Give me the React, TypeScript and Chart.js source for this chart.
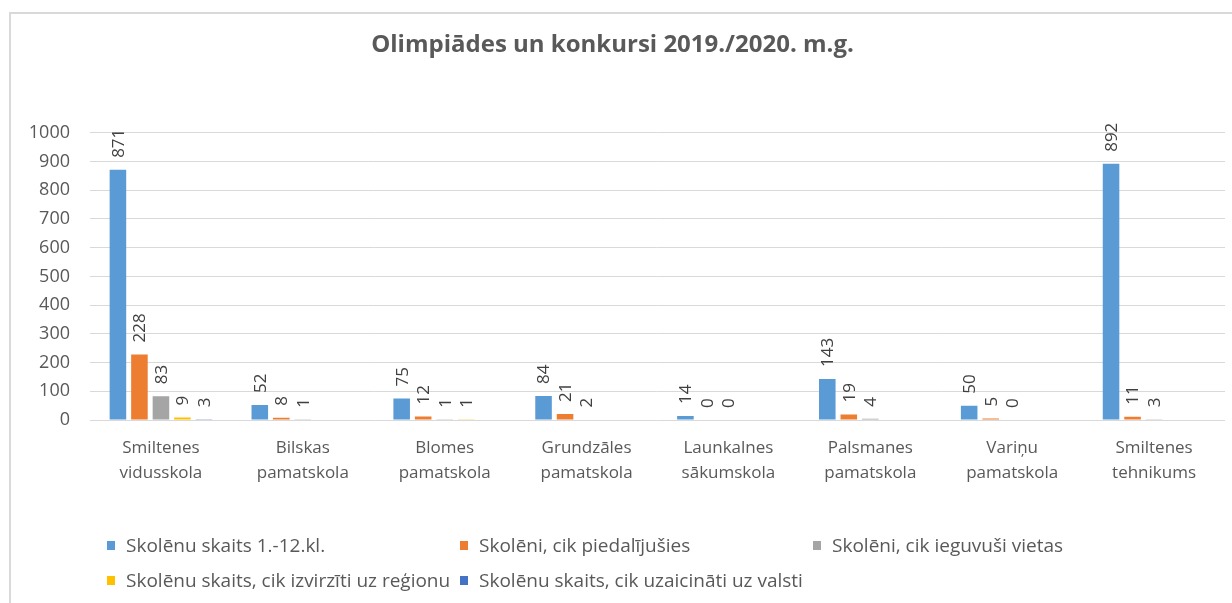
import React, { useEffect, useRef } from "react";
import { Chart, registerables } from "chart.js";

Chart.register(...registerables);

const categories: string[][] = [
  ["Smiltenes", "vidusskola"],
  ["Bilskas", "pamatskola"],
  ["Blomes", "pamatskola"],
  ["Grundzāles", "pamatskola"],
  ["Launkalnes", "sākumskola"],
  ["Palsmanes", "pamatskola"],
  ["Variņu", "pamatskola"],
  ["Smiltenes", "tehnikums"],
];

const seriesNames = [
  "Skolēnu skaits 1.-12.kl.",
  "Skolēni, cik piedalījušies",
  "Skolēni, cik ieguvuši vietas",
  "Skolēnu skaits, cik izvirzīti uz reģionu",
  "Skolēnu skaits, cik uzaicināti uz valsti",
];

const skolenuSkaits = [871, 52, 75, 84, 14, 143, 50, 892];
const piedalijusies = [228, 8, 12, 21, 0, 19, 5, 11];
const ieguvusiVietas = [83, 1, 1, 2, 0, 4, 0, 3];
const izvirzitiRegionu = [9, null, 1, null, null, null, null, null];
const uzaicinatiValsti = [3, null, null, null, null, null, null, null];

const yTicks = [0, 100, 200, 300, 400, 500, 600, 700, 800, 900, 1000];

const colors = ["#5B9BD5", "#ED7D31", "#A5A5A5", "#FFC000", "#4472C4"];

const FONT = "'Open Sans', 'DejaVu Sans', sans-serif";
const TEXT = "#595959";

const valueLabels = {
  id: "valueLabels",
  afterDatasetsDraw(chart: any) {
    const ctx = chart.ctx;
    ctx.save();
    ctx.font = `17px ${FONT}`;
    ctx.fillStyle = "#404040";
    ctx.textAlign = "left";
    ctx.textBaseline = "middle";
    chart.data.datasets.forEach((ds: any, i: number) => {
      const meta = chart.getDatasetMeta(i);
      meta.data.forEach((el: any, j: number) => {
        const v = ds.data[j];
        if (v === null || v === undefined) return;
        ctx.save();
        ctx.translate(el.x + 1, el.y - 12);
        ctx.rotate(-Math.PI / 2);
        ctx.fillText(String(v), 0, 0);
        ctx.restore();
      });
    });
    ctx.restore();
  },
};

export default function App() {
  const ref = useRef<HTMLCanvasElement>(null);

  useEffect(() => {
    const series = [skolenuSkaits, piedalijusies, ieguvusiVietas, izvirzitiRegionu, uzaicinatiValsti];
    const chart = new Chart(ref.current!, {
      type: "bar",
      data: {
        labels: categories,
        datasets: series.map((d, i) => ({
          label: seriesNames[i],
          data: d as any,
          backgroundColor: colors[i],
          borderWidth: 0,
          categoryPercentage: 0.758,
          barPercentage: 0.77,
        })),
      },
      options: {
        responsive: false,
        animation: false,
        layout: { padding: { left: 0, right: 7, top: 0, bottom: 0 } },
        plugins: {
          legend: { display: false },
          tooltip: { enabled: false },
          title: {
            display: true,
            text: "Olimpiādes un konkursi 2019./2020. m.g.",
            color: TEXT,
            font: { family: FONT, size: 24, weight: "bold", lineHeight: 1.2 },
            padding: { top: 31, bottom: 73 },
          },
        },
        scales: {
          x: {
            grid: { display: false },
            border: { display: false },
            ticks: {
              color: TEXT,
              font: { family: FONT, size: 17, lineHeight: 1.5 },
              padding: 7,
              maxRotation: 0,
              autoSkip: false,
            },
            afterFit(scale: any) {
              scale.height = 183;
            },
          },
          y: {
            min: 0,
            max: 1000,
            afterBuildTicks(scale: any) {
              scale.ticks = yTicks.map((v) => ({ value: v }));
            },
            grid: { color: "#D9D9D9", lineWidth: 1, drawTicks: false },
            border: { display: false },
            ticks: {
              color: TEXT,
              font: { family: FONT, size: 18 },
              padding: 20,
              callback: (v: any) => String(v),
            },
            afterFit(scale: any) {
              scale.width = 90;
            },
          },
        },
      },
      plugins: [valueLabels],
    });
    return () => chart.destroy();
  }, []);

  const legendItems = seriesNames.map((n, i) => ({ name: n, color: colors[i] }));

  return (
    <div style={{ position: "absolute", left: 0, top: 0, width: 1232, height: 603, background: "#fff", overflow: "hidden" }}>
      <div
        style={{
          position: "absolute",
          left: 9,
          top: 12,
          width: 1240,
          height: 620,
          borderLeft: "2px solid #D9D9D9",
          borderTop: "2px solid #D9D9D9",
          boxSizing: "border-box",
        }}
      />
      <canvas ref={ref} width={1232} height={603} style={{ position: "absolute", left: 0, top: 0 }} />
      {legendItems.map((it, i) => {
        const col = i % 3;
        const row = Math.floor(i / 3);
        return (
          <div
            key={it.name}
            style={{
              position: "absolute",
              left: 107 + col * 353,
              top: 533 + row * 35,
              height: 24,
              display: "flex",
              alignItems: "center",
              fontFamily: FONT,
              fontSize: 19,
              color: TEXT,
              whiteSpace: "nowrap",
            }}
          >
            <span style={{ display: "inline-block", width: 8, height: 9, background: it.color, marginRight: 11 }} />
            <span>{it.name}</span>
          </div>
        );
      })}
    </div>
  );
}
